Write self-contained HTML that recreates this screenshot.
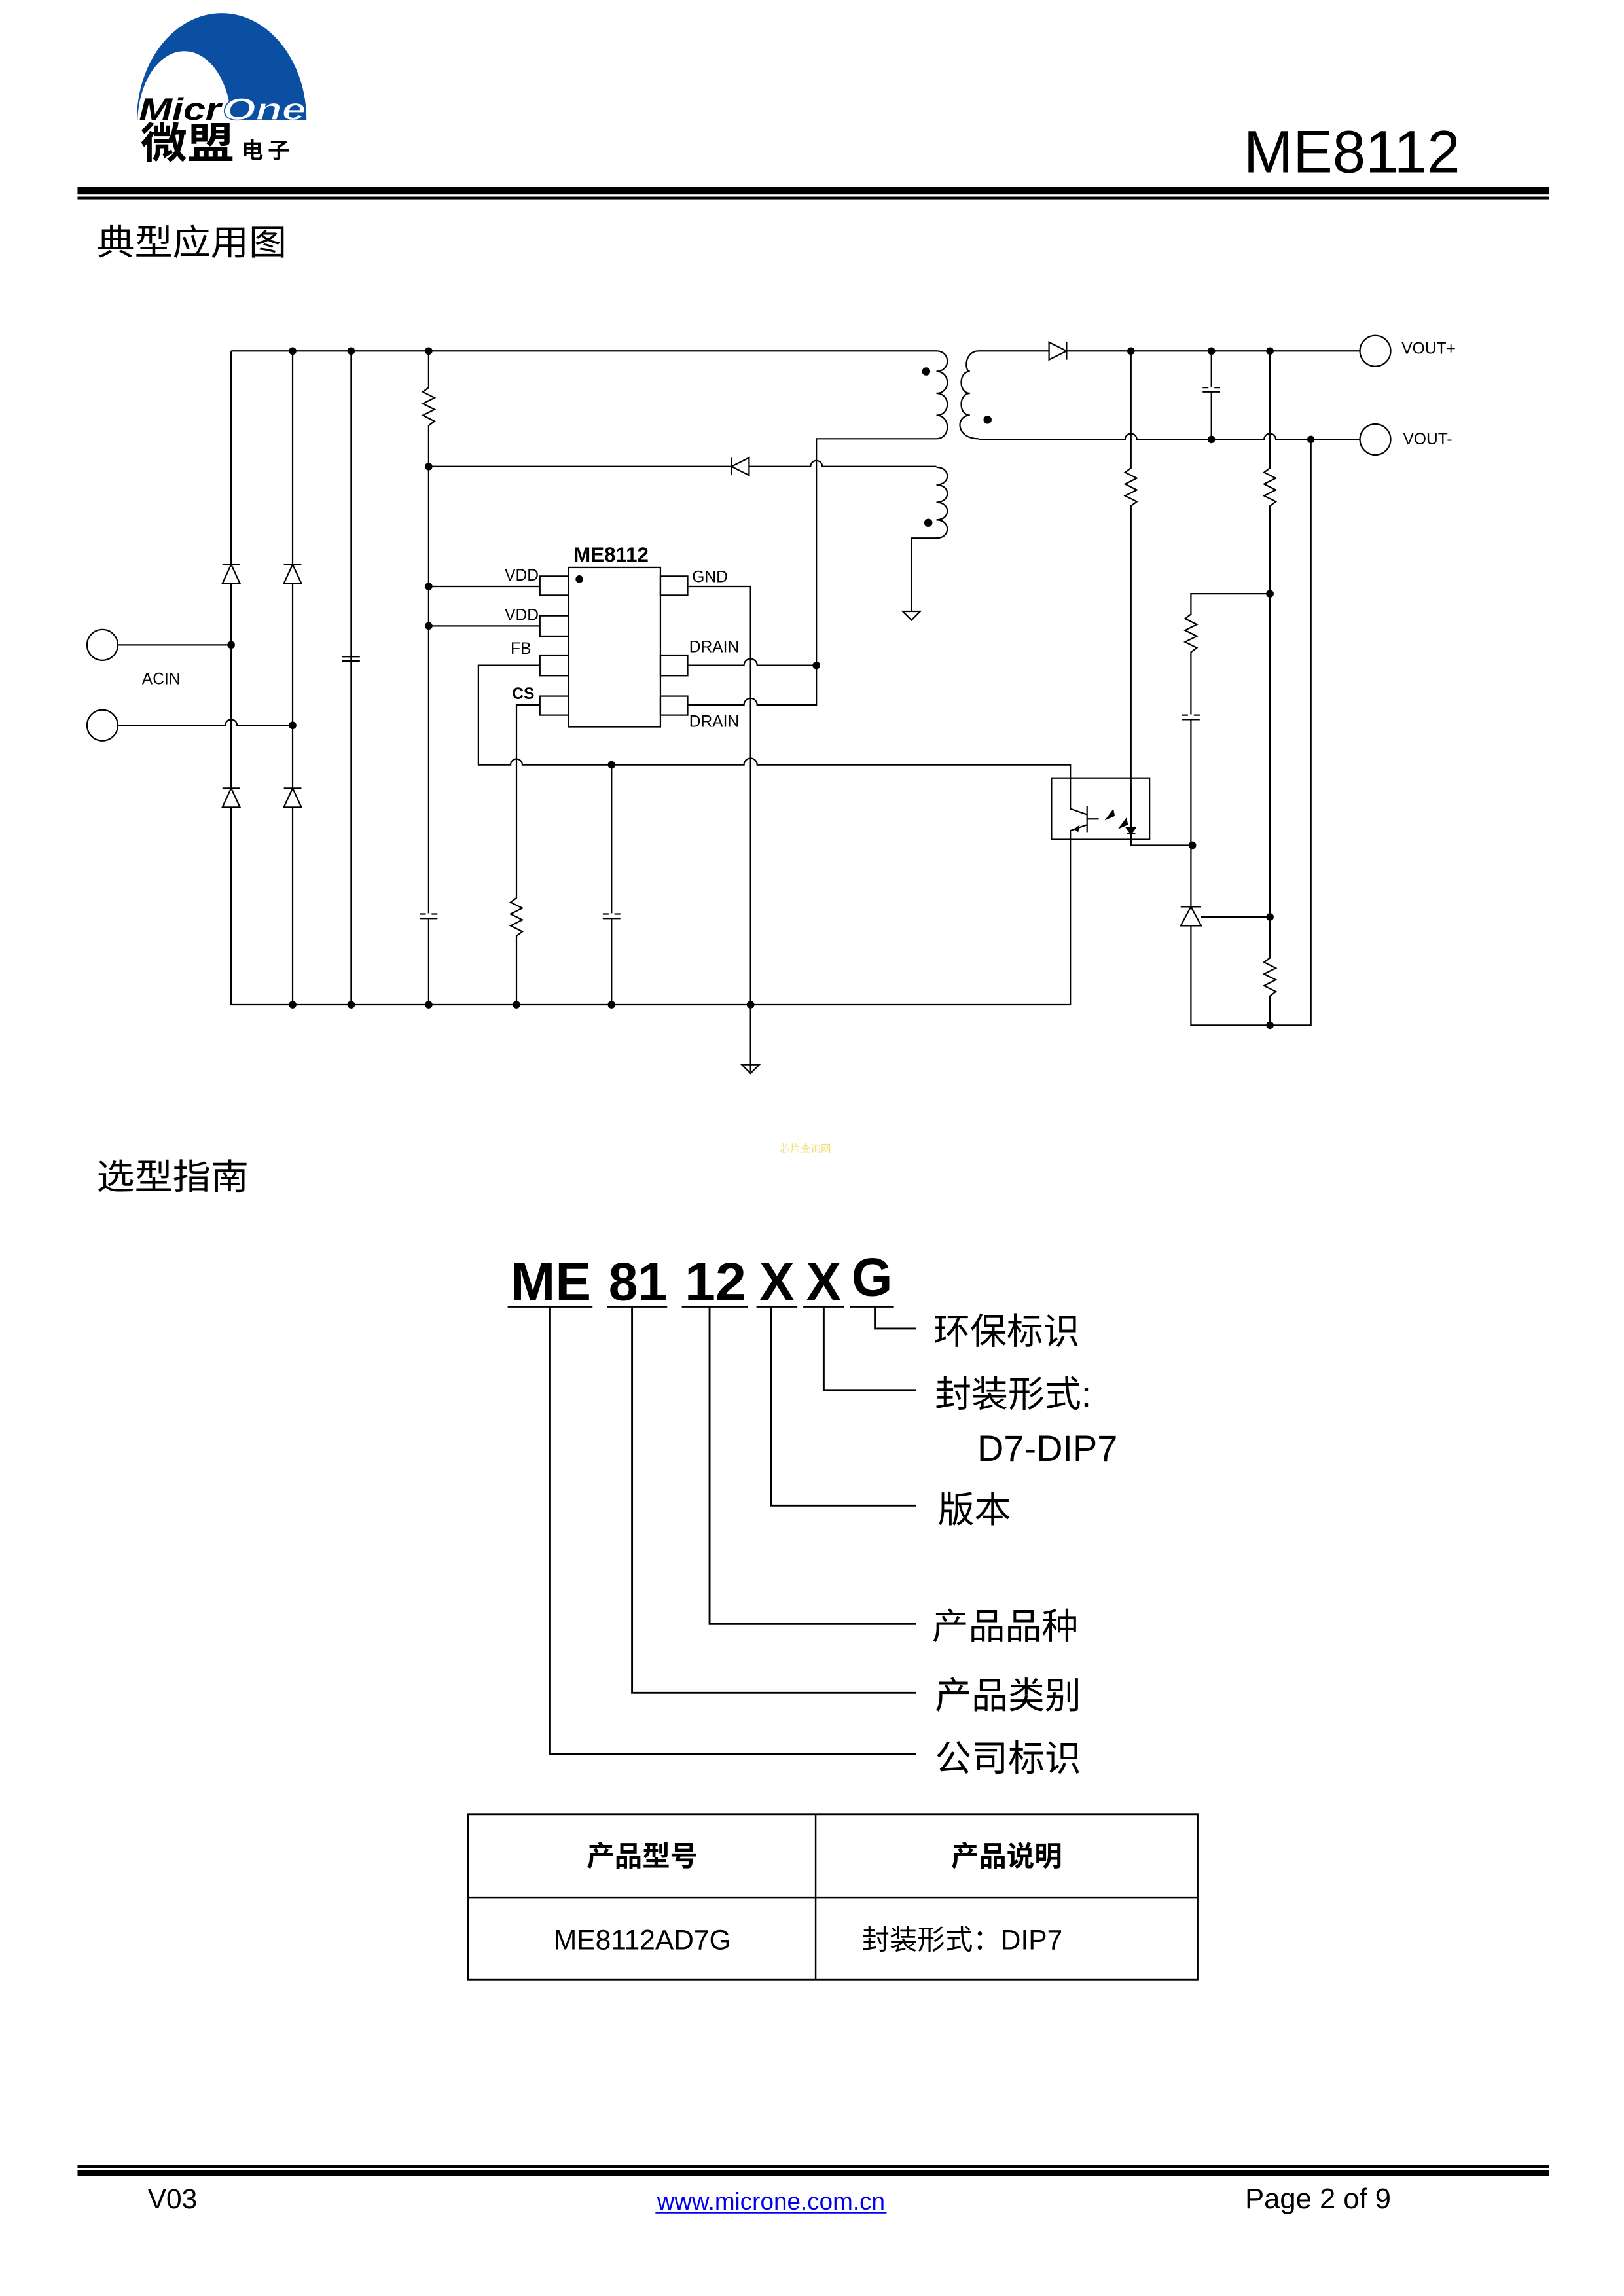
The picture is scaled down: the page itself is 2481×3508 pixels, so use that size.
<!DOCTYPE html>
<html><head><meta charset="utf-8"><style>
html,body{margin:0;padding:0;background:#fff}
svg{display:block}
text{font-family:"Liberation Sans","Noto Sans CJK SC",sans-serif}
</style></head><body>
<svg width="2481" height="3508" viewBox="0 0 1110 1570" preserveAspectRatio="none" xmlns="http://www.w3.org/2000/svg">
<rect width="1110" height="1570" fill="#fff"/>
<!-- Logo -->
<defs><clipPath id="cl"><rect x="80" y="0" width="140" height="82"/></clipPath></defs>
<g clip-path="url(#cl)">
<ellipse cx="151.5" cy="82" rx="58" ry="73" fill="#0b4fa3"/>
<ellipse cx="126" cy="84" rx="32" ry="49" fill="#fff"/>
</g>
<text x="95" y="82" font-size="21" font-weight="bold" font-style="italic" fill="#000" textLength="56" lengthAdjust="spacingAndGlyphs">Micr</text>
<text x="152" y="82" font-size="21" font-weight="bold" font-style="italic" fill="#fff" stroke="#0b4fa3" stroke-width="0.6" textLength="57" lengthAdjust="spacingAndGlyphs">One</text>
<text x="96" y="108" font-size="29" font-weight="bold" fill="#000" textLength="64" lengthAdjust="spacingAndGlyphs">微盟</text>
<text x="165" y="108" font-size="15" font-weight="bold" fill="#000" letter-spacing="3">电子</text>
<text x="850" y="118" font-size="41" fill="#000" textLength="148" lengthAdjust="spacingAndGlyphs">ME8112</text>
<rect x="53" y="128" width="1006" height="5" fill="#000"/>
<rect x="53" y="134.5" width="1006" height="1.8" fill="#000"/>
<text x="66" y="174" font-size="24" fill="#000" textLength="130" lengthAdjust="spacingAndGlyphs">典型应用图</text>

<!-- Circuit -->
<g fill="none" stroke="#000" stroke-width="1">
<path d="M158,240 H640"/>
<path d="M158,687 H731"/>
<path d="M158,240 V687 M200,240 V687 M240,240 V687"/>
<circle cx="70" cy="441" r="10.5"/><circle cx="70" cy="496" r="10.5"/>
<path d="M80.5,441 H158"/>
<path d="M80.5,496 H154 a4,4 0 0 1 8,0 H200"/>
<g fill="#fff">
<path d="M152,399 L158,386 L164,399 Z M152,386 H164"/>
<path d="M194,399 L200,386 L206,399 Z M194,386 H206"/>
<path d="M152,552 L158,539 L164,552 Z M152,539 H164"/>
<path d="M194,552 L200,539 L206,552 Z M194,539 H206"/>
</g>
<path d="M234,449 H246 M234,452 H246"/>
<path d="M293,240 V265 L289,268 L297,272 L289,276 L297,280 L289,284 L297,288 L293,291 V687"/>
<path d="M287,625 H299 M287,628 H299"/>
<rect x="291" y="624.5" width="4" height="3" fill="#fff" stroke="none"/>
<path d="M293,319 H554 a4,4 0 0 1 8,0 H640"/>
<path d="M500,319 L512,313 V325 Z M500,313 V325" fill="#fff"/>
<rect x="388.4" y="388" width="63" height="109"/>
<rect x="369" y="394" width="19.4" height="13"/>
<rect x="369" y="421" width="19.4" height="14"/>
<rect x="369" y="448" width="19.4" height="14"/>
<rect x="369" y="476" width="19.4" height="13"/>
<rect x="451.4" y="394" width="18.6" height="13"/>
<rect x="451.4" y="448" width="18.6" height="14"/>
<rect x="451.4" y="476" width="18.6" height="13"/>
<path d="M293,401 H369 M293,428 H369"/>
<path d="M470,401 H513 V733"/>
<path d="M507,728 H519 L513,734 Z"/>
<path d="M470,455 H508.5 a4.5,4.5 0 0 1 9,0 H558"/>
<path d="M470,482 H508.5 a4.5,4.5 0 0 1 9,0 H558 V300 H640"/>
<path d="M369,455 H327 V523 H349 a4,4 0 0 1 8,0 H508.5 a4.5,4.5 0 0 1 9,0 H731.6 V553"/>
<path d="M369,482 H353 V614 L349,617 L357,621 L349,625 L357,629 L349,633 L357,637 L353,640 V687"/>
<path d="M418,523 V687 M412,625 H424 M412,628 H424"/>
<rect x="416" y="624.5" width="4" height="3" fill="#fff" stroke="none"/>
<path d="M640,240 c10,0 10,14 0,14 c10,0 10,15 0,15 c10,0 10,15 0,15 c10,0 10,16 0,16"/>
<path d="M669,240 c-10,0 -10,14 -6,14 c-8,0 -8,15 0,15 c-8,0 -8,15 0,15 c-10,0 -10,16 6,16" />
<path d="M640,319.5 c10,0 10,12 0,12 c10,0 10,12 0,12 c10,0 10,12 0,12 c10,0 10,12.5 0,12.5 H623 V418"/>
<path d="M617,418 H629 L623,424 Z"/>
<path d="M669,240 H929.5"/>
<path d="M669,300.5 H769 a4,4 0 0 1 8,0 H864 a4,4 0 0 1 8,0 H929.5"/>
<path d="M717,234 V246 L729,240 Z M729,234 V246" fill="#fff"/>
<circle cx="940" cy="240" r="10.5"/><circle cx="940" cy="300.5" r="10.5"/>
<path d="M828,240 V300 M822,265 H834 M822,268 H834"/>
<rect x="826" y="264.5" width="4" height="3" fill="#fff" stroke="none"/>
<path d="M773,240 V320 L769,323 L777,327 L769,331 L777,335 L769,339 L777,343 L773,346 V578 H815"/>
<path d="M868,240 V320 L864,323 L872,327 L864,331 L872,335 L864,339 L872,343 L868,346 V655 L864,658 L872,662 L864,666 L872,670 L864,674 L872,678 L868,681 V701"/>
<path d="M868,406 H814 V420 L810,423 L818,427 L810,431 L818,435 L810,439 L818,443 L814,446 V701 H896 V300.5"/>
<path d="M808,489 H820 M808,492 H820"/>
<rect x="812" y="488.5" width="4" height="3" fill="#fff" stroke="none"/>
<path d="M807,633 L814,620 L821,633 Z M807,620 H821" fill="#fff"/>
<path d="M821,627 H868"/>
<rect x="718.7" y="532" width="67" height="42"/>
<path d="M731.6,553 L743,557 M743,551 V569 M743,560 H751 M743,564 L731.6,568 V687"/>
<path d="M773,538 V578"/>
<path d="M770,566 L776,566 L773,570 Z M770,570 H776" fill="#000"/>
</g>
<g fill="#000">
<path d="M734,567 L738,564 L737,569 Z"/>
<path d="M757,556 L763,552 M755,561 L761,553 L762,558 Z"/>
<path d="M766,562 L772,558 M764,567 L770,559 L771,564 Z"/>
<circle cx="158" cy="441" r="2.6"/><circle cx="200" cy="496" r="2.6"/>
<circle cx="200" cy="240" r="2.6"/><circle cx="240" cy="240" r="2.6"/><circle cx="293" cy="240" r="2.6"/>
<circle cx="293" cy="319" r="2.6"/><circle cx="293" cy="401" r="2.6"/><circle cx="293" cy="428" r="2.6"/>
<circle cx="200" cy="687" r="2.6"/><circle cx="240" cy="687" r="2.6"/><circle cx="293" cy="687" r="2.6"/>
<circle cx="353" cy="687" r="2.6"/><circle cx="418" cy="687" r="2.6"/><circle cx="513" cy="687" r="2.6"/>
<circle cx="418" cy="523" r="2.6"/><circle cx="558" cy="455" r="2.6"/>
<circle cx="396" cy="396" r="2.6"/>
<circle cx="633" cy="254" r="2.8"/><circle cx="675" cy="287" r="2.8"/><circle cx="634.5" cy="357.5" r="2.8"/>
<circle cx="773" cy="240" r="2.6"/><circle cx="828" cy="240" r="2.6"/><circle cx="868" cy="240" r="2.6"/>
<circle cx="828" cy="300.5" r="2.6"/><circle cx="896" cy="300.5" r="2.6"/>
<circle cx="868" cy="406" r="2.6"/><circle cx="815" cy="578" r="2.6"/>
<circle cx="868" cy="627" r="2.6"/><circle cx="868" cy="701" r="2.6"/>
</g>
<g font-size="11" fill="#000">
<text x="97" y="468">ACIN</text>
<text x="345" y="397">VDD</text>
<text x="345" y="424">VDD</text>
<text x="349" y="447">FB</text>
<text x="350" y="478" font-weight="bold">CS</text>
<text x="473" y="398">GND</text>
<text x="471" y="446">DRAIN</text>
<text x="471" y="497">DRAIN</text>
<text x="958" y="242">VOUT+</text>
<text x="959" y="304">VOUT-</text>
</g>
<text x="392" y="384" font-size="14" font-weight="bold" fill="#000">ME8112</text>
<text x="533" y="788" font-size="7" fill="#f0e080">芯片查询网</text>

<text x="66" y="813" font-size="24" fill="#000" textLength="104" lengthAdjust="spacingAndGlyphs">选型指南</text>
<g font-size="37" font-weight="bold" fill="#000">
<text x="349" y="889" textLength="55" lengthAdjust="spacingAndGlyphs">ME</text>
<text x="416" y="889" textLength="40" lengthAdjust="spacingAndGlyphs">81</text>
<text x="468" y="889" textLength="42" lengthAdjust="spacingAndGlyphs">12</text>
<text x="519" y="889" textLength="24" lengthAdjust="spacingAndGlyphs">X</text>
<text x="551" y="889" textLength="24" lengthAdjust="spacingAndGlyphs">X</text>
<text x="582" y="886" textLength="28" lengthAdjust="spacingAndGlyphs">G</text>
</g>
<g stroke="#000" stroke-width="1.3" fill="none">
<path d="M347,893.5 H405 M415,893.5 H456 M466,893.5 H511 M517,893.5 H545 M549,893.5 H577 M581,893.5 H611"/>
<path d="M376,894 V1199.5 H626"/>
<path d="M432,894 V1157.5 H626"/>
<path d="M485,894 V1110.5 H626"/>
<path d="M527,894 V1029.5 H626"/>
<path d="M563,894 V950.5 H626"/>
<path d="M598,894 V908.5 H626"/>
</g>
<g font-size="25" fill="#000">
<text x="638" y="919">环保标识</text>
<text x="639" y="962">封装形式:</text>
<text x="668" y="999">D7-DIP7</text>
<text x="641" y="1041">版本</text>
<text x="637" y="1121">产品品种</text>
<text x="639" y="1168">产品类别</text>
<text x="639" y="1211">公司标识</text>
</g>

<g stroke="#000" fill="none">
<rect x="320" y="1240.5" width="498.5" height="113" stroke-width="1.3"/>
<path d="M320,1297.5 H818.5 M557.5,1240.5 V1353.5" stroke-width="1.1"/>
</g>
<g font-size="19" fill="#000" text-anchor="middle">
<text x="439" y="1276" font-weight="bold">产品型号</text>
<text x="688" y="1276" font-weight="bold">产品说明</text>
<text x="439" y="1333">ME8112AD7G</text>
</g>
<text x="589" y="1333" font-size="19" fill="#000">封装形式：DIP7</text>

<rect x="53" y="1480.5" width="1006" height="2" fill="#000"/>
<rect x="53" y="1483.8" width="1006" height="4" fill="#000"/>
<text x="101" y="1510" font-size="19" fill="#000">V03</text>
<text x="527" y="1511" font-size="16.5" fill="#0000ee" text-anchor="middle">www.microne.com.cn</text>
<path d="M448,1513 H606" stroke="#0000ee" stroke-width="1"/>
<text x="851" y="1510" font-size="19.5" fill="#000">Page 2 of 9</text>
</svg>
</body></html>
